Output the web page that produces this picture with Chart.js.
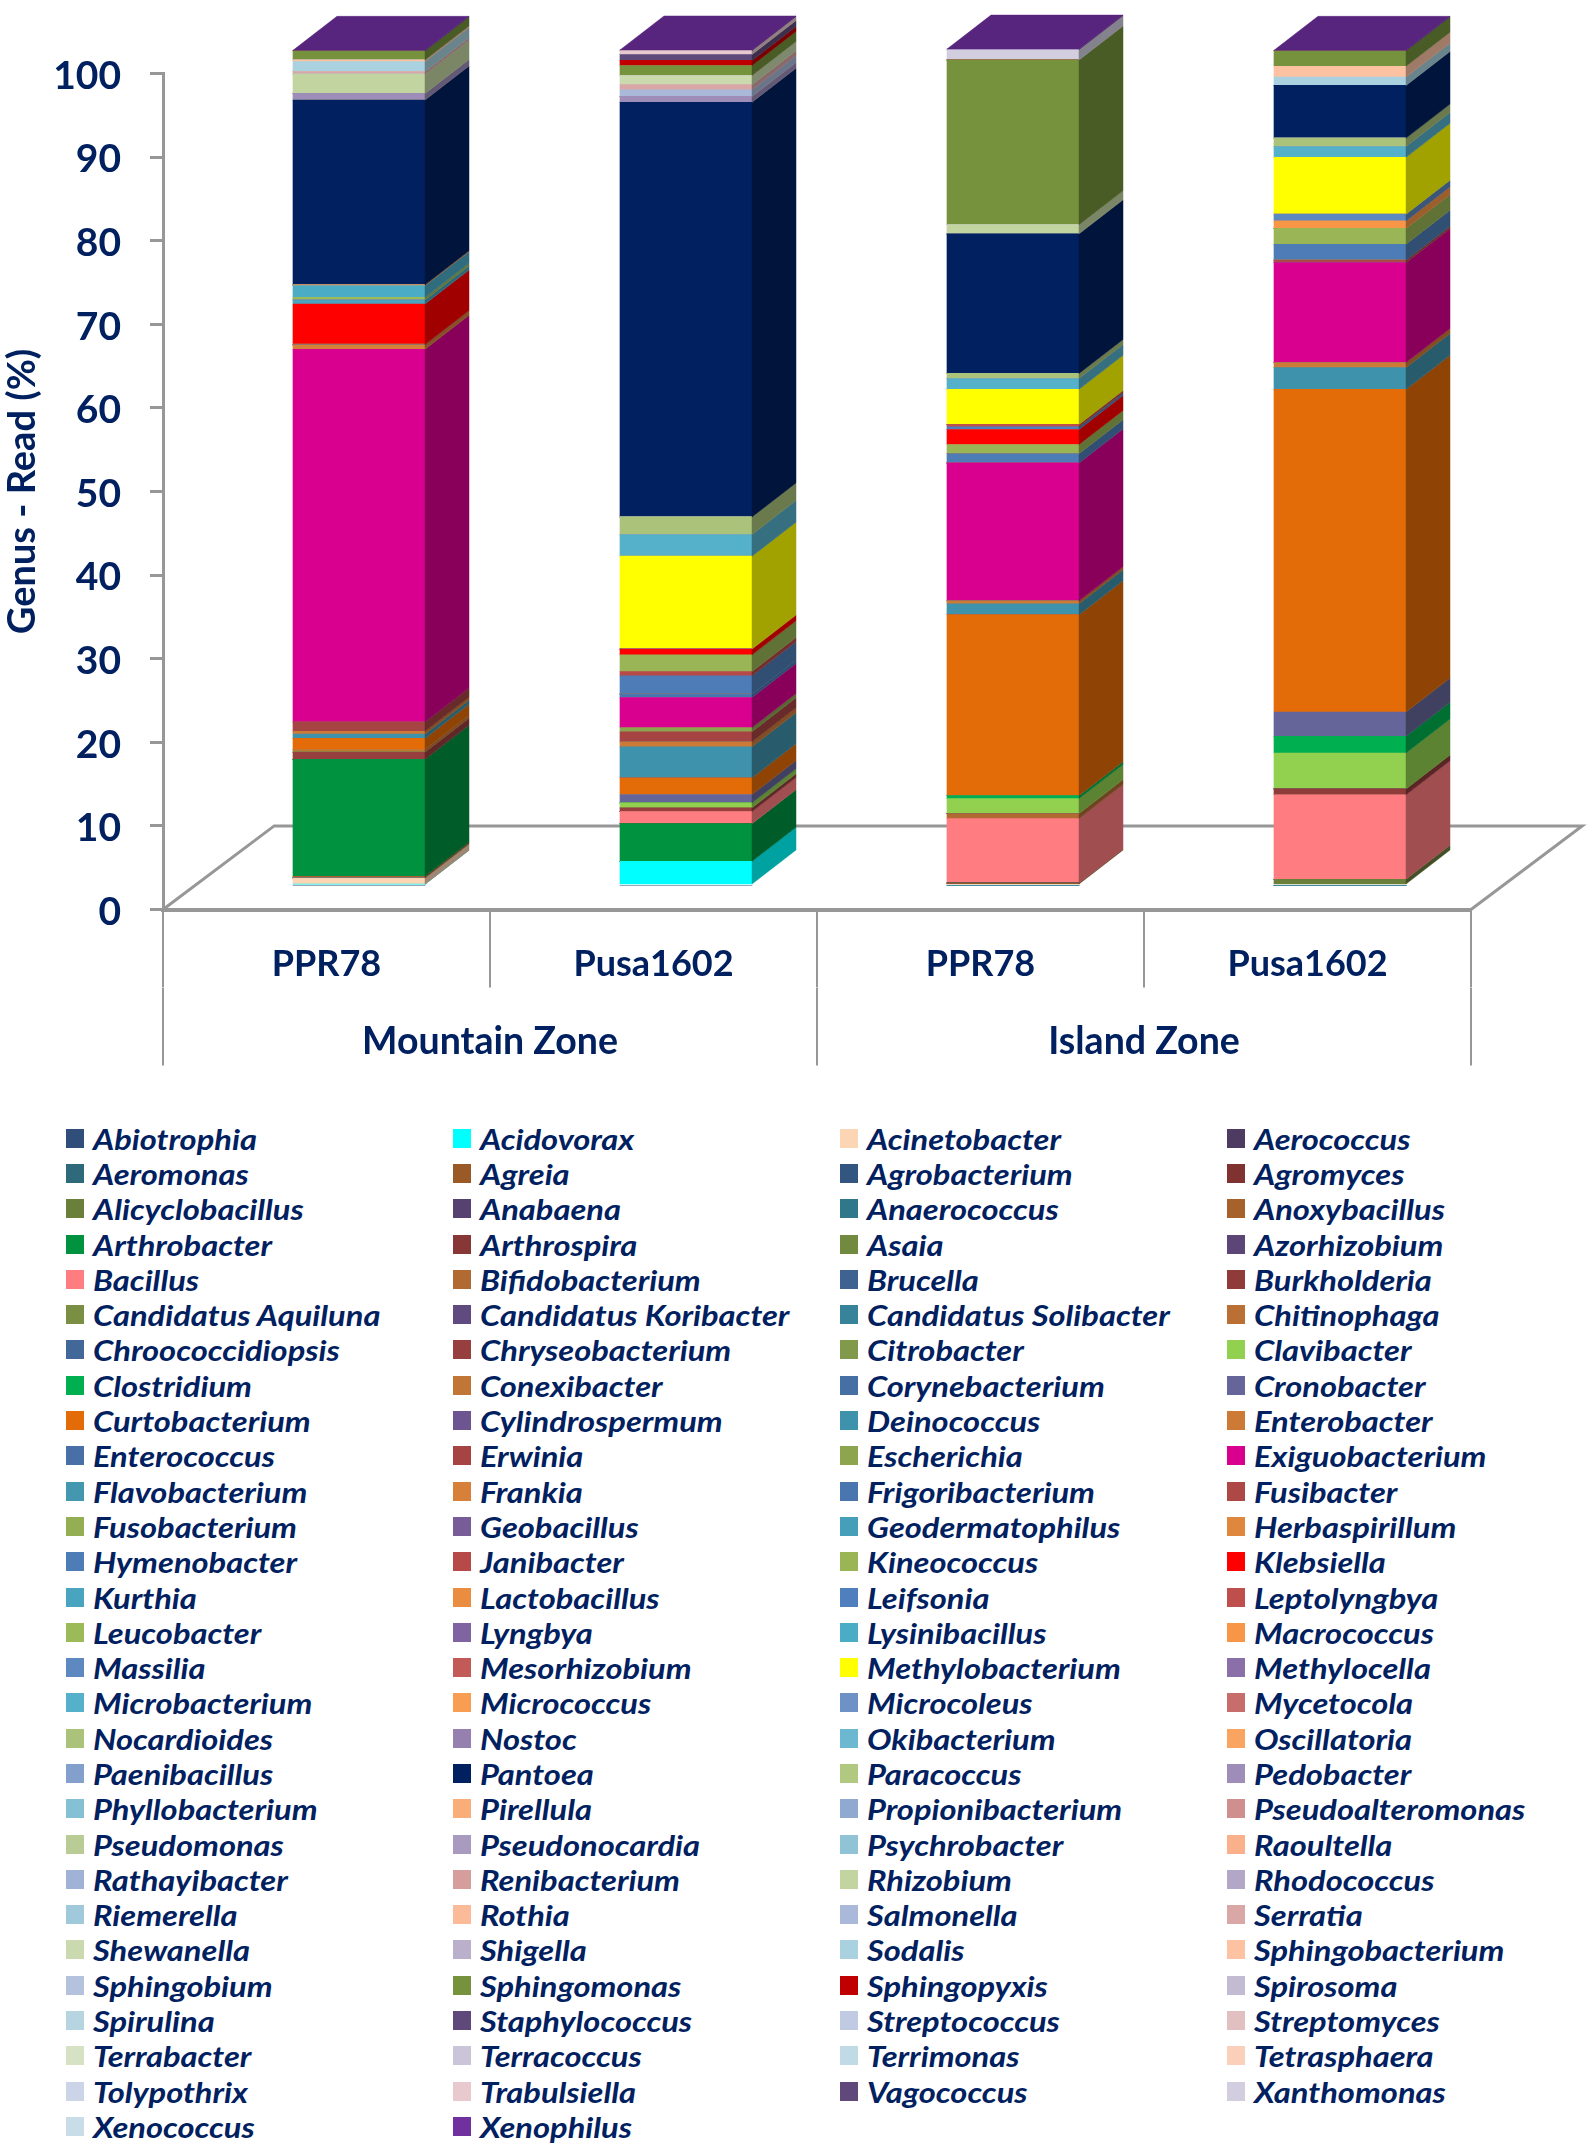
<!DOCTYPE html>
<html>
<head>
<meta charset="utf-8">
<title>Genus - Read</title>
<script src="https://cdn.jsdelivr.net/npm/chart.js@4"></script>
<style>
    body { margin: 0; background: #fff; width: 1592px; height: 2145px; position: relative; overflow: hidden; }
    #myChart { position: absolute; left: 0; top: 0; }
    #legend { position: absolute; left: 66px; top: 1120.5px; display: grid; grid-template-columns: repeat(4, 387px); grid-auto-rows: 35.3px; }
    .item { display: flex; align-items: center; font: italic 700 29px Lato, sans-serif; color: #002060; white-space: nowrap; }
    .item span.name { display: inline-block; transform: scaleX(1.125); transform-origin: 0 50%; }
    .swatch { width: 18px; height: 19px; margin-right: 9px; flex: none; }
</style>
</head>
<body>
<canvas id="myChart" width="1592" height="1110"></canvas>
<div id="legend"></div>
<script>
const cultivars = ['PPR78', 'Pusa1602', 'PPR78', 'Pusa1602'];
const zones = ['Mountain Zone', 'Island Zone'];
const yTicks = [0, 10, 20, 30, 40, 50, 60, 70, 80, 90, 100];

// same order as the legend, four to a row
const genera = [
    'Abiotrophia', 'Acidovorax', 'Acinetobacter', 'Aerococcus',
    'Aeromonas', 'Agreia', 'Agrobacterium', 'Agromyces',
    'Alicyclobacillus', 'Anabaena', 'Anaerococcus', 'Anoxybacillus',
    'Arthrobacter', 'Arthrospira', 'Asaia', 'Azorhizobium',
    'Bacillus', 'Bifidobacterium', 'Brucella', 'Burkholderia',
    'Candidatus Aquiluna', 'Candidatus Koribacter', 'Candidatus Solibacter', 'Chitinophaga',
    'Chroococcidiopsis', 'Chryseobacterium', 'Citrobacter', 'Clavibacter',
    'Clostridium', 'Conexibacter', 'Corynebacterium', 'Cronobacter',
    'Curtobacterium', 'Cylindrospermum', 'Deinococcus', 'Enterobacter',
    'Enterococcus', 'Erwinia', 'Escherichia', 'Exiguobacterium',
    'Flavobacterium', 'Frankia', 'Frigoribacterium', 'Fusibacter',
    'Fusobacterium', 'Geobacillus', 'Geodermatophilus', 'Herbaspirillum',
    'Hymenobacter', 'Janibacter', 'Kineococcus', 'Klebsiella',
    'Kurthia', 'Lactobacillus', 'Leifsonia', 'Leptolyngbya',
    'Leucobacter', 'Lyngbya', 'Lysinibacillus', 'Macrococcus',
    'Massilia', 'Mesorhizobium', 'Methylobacterium', 'Methylocella',
    'Microbacterium', 'Micrococcus', 'Microcoleus', 'Mycetocola',
    'Nocardioides', 'Nostoc', 'Okibacterium', 'Oscillatoria',
    'Paenibacillus', 'Pantoea', 'Paracoccus', 'Pedobacter',
    'Phyllobacterium', 'Pirellula', 'Propionibacterium', 'Pseudoalteromonas',
    'Pseudomonas', 'Pseudonocardia', 'Psychrobacter', 'Raoultella',
    'Rathayibacter', 'Renibacterium', 'Rhizobium', 'Rhodococcus',
    'Riemerella', 'Rothia', 'Salmonella', 'Serratia',
    'Shewanella', 'Shigella', 'Sodalis', 'Sphingobacterium',
    'Sphingobium', 'Sphingomonas', 'Sphingopyxis', 'Spirosoma',
    'Spirulina', 'Staphylococcus', 'Streptococcus', 'Streptomyces',
    'Terrabacter', 'Terracoccus', 'Terrimonas', 'Tetrasphaera',
    'Tolypothrix', 'Trabulsiella', 'Vagococcus', 'Xanthomonas',
    'Xenococcus', 'Xenophilus'
];

const mountainPPR78 = [
    0, 0.15, 0.75, 0,
    0, 0, 0, 0,
    0, 0, 0, 0.2,
    14.0, 0, 0, 0,
    0, 0, 0, 0,
    0, 0, 0, 0,
    0, 0.85, 0, 0,
    0, 0.35, 0, 0,
    1.3, 0, 0.5, 0.35,
    0, 1.1, 0, 44.6,
    0, 0.5, 0, 0,
    0, 0, 0, 0,
    0, 0.1, 0, 4.8,
    0.5, 0, 0, 0,
    0.3, 0, 1.4, 0.1,
    0, 0, 0, 0,
    0, 0, 0, 0,
    0, 0, 0, 0,
    0, 22.1, 0, 0.8,
    0, 0, 0, 0,
    0, 0, 0, 0,
    0, 0, 2.3, 0,
    0, 0, 0, 0.3,
    0, 0, 1.2, 0.2,
    0, 1.1, 0, 0,
    0, 0, 0, 0,
    0, 0, 0, 0,
    0, 0, 0, 0,
    0, 0.05
];

const mountainPusa1602 = [
    0, 2.9, 0, 0,
    0, 0, 0, 0,
    0, 0, 0, 0,
    4.5, 0, 0, 0,
    1.44, 0, 0, 0,
    0, 0, 0, 0,
    0, 0.45, 0, 0.6,
    0, 0, 0, 1.0,
    2.0, 0, 3.7, 0.6,
    0, 1.2, 0.5, 3.6,
    0, 0, 0.4, 0,
    0, 0, 0, 0,
    2.2, 0.5, 2.0, 0.7,
    0, 0, 0, 0,
    0, 0, 0, 0,
    0, 0, 11.1, 0,
    2.6, 0, 0, 0,
    2.1, 0, 0, 0,
    0, 49.6, 0, 0.7,
    0, 0, 0, 0,
    0, 0, 0, 0,
    0, 0, 0, 0,
    0, 0, 0.8, 0.6,
    1.1, 0, 0, 0,
    0, 1.2, 0.6, 0,
    0, 0.7, 0, 0,
    0, 0, 0, 0,
    0, 0.5, 0, 0,
    0, 0.05
];

const islandPPR78 = [
    0, 0, 0, 0,
    0, 0.3, 0, 0,
    0, 0, 0, 0,
    0, 0, 0, 0,
    7.7, 0.6, 0, 0,
    0, 0, 0, 0,
    0, 0, 0, 1.8,
    0.35, 0, 0, 0,
    21.65, 0, 1.3, 0.35,
    0, 0, 0, 16.5,
    0, 0, 0, 0,
    0, 0, 0, 0,
    1.1, 0, 1.1, 1.8,
    0, 0, 0.3, 0.3,
    0, 0, 0, 0,
    0, 0, 4.2, 0,
    1.3, 0, 0, 0,
    0.6, 0, 0, 0,
    0, 16.7, 0, 0,
    0, 0, 0, 0,
    0, 0, 0, 0,
    0, 0, 1.1, 0,
    0, 0, 0, 0,
    0, 0, 0, 0,
    0, 19.7, 0, 0,
    0, 0, 0, 0,
    0, 0, 0, 0,
    0, 0, 0, 1.25,
    0, 0.05
];

const islandPusa1602 = [
    0, 0, 0, 0,
    0, 0, 0, 0,
    0.75, 0, 0, 0,
    0, 0, 0, 0,
    10.1, 0, 0, 0.7,
    0, 0, 0, 0,
    0, 0, 0, 4.3,
    2.0, 0, 0, 2.9,
    38.6, 0, 2.6, 0.6,
    0, 0, 0, 11.95,
    0, 0, 0, 0.3,
    0, 0, 0, 0,
    1.9, 0, 1.9, 0,
    0, 0, 0, 0,
    0, 0, 0, 0.9,
    0.8, 0, 6.8, 0,
    1.3, 0, 0, 0,
    1.0, 0, 0, 0,
    0, 6.3, 0, 0,
    0, 0, 0, 0,
    0, 0, 0, 0,
    0, 0, 0, 0,
    0, 0, 0, 0,
    0, 0, 1.0, 1.3,
    0, 1.85, 0, 0,
    0, 0, 0, 0,
    0, 0, 0, 0,
    0, 0, 0, 0,
    0, 0.05
];

const samples = [mountainPPR78, mountainPusa1602, islandPPR78, islandPusa1602];

const genusColors = [
    '#2f4f7a', '#00ffff', '#fcd5b5', '#4d3b62',
    '#2f6a7c', '#9a5a28', '#335680', '#7f3230',
    '#6a7f3a', '#554270', '#30778a', '#a7622c',
    '#00923f', '#873736', '#728a40', '#5b4677',
    '#ff7c80', '#b16a32', '#3f6290', '#8f3b3a',
    '#7a8f44', '#5f4b80', '#37849a', '#ba7034',
    '#42689a', '#963f3e', '#81994a', '#92d050',
    '#00b050', '#c27636', '#4670a4', '#65659a',
    '#e36c09', '#6d5592', '#3f92ab', '#cd7a36',
    '#4870a6', '#a54443', '#8ca54e', '#d9008f',
    '#4398b0', '#d6803a', '#4a76b0', '#ae4846',
    '#93ae53', '#785c98', '#469fb8', '#e0873e',
    '#4e7cb6', '#b74a48', '#99b555', '#ff0000',
    '#49a5bf', '#eb8d41', '#4f80bd', '#be4f4c',
    '#9bbb59', '#8063a1', '#4bacc6', '#f79646',
    '#5e88c0', '#c25a58', '#ffff00', '#8a6fa8',
    '#55b0ca', '#f89e52', '#6f92c6', '#c76d6b',
    '#aac27a', '#9580b0', '#6cb8d0', '#f9a561',
    '#82a0cb', '#002060', '#b0c880', '#9f8db9',
    '#84c1d4', '#f9ae7a', '#90a9d0', '#cf8f8e',
    '#bacc96', '#a99bc0', '#8fc3d5', '#fab08a',
    '#a0b3d6', '#d59d9c', '#c2d4a0', '#b2a7c6',
    '#a0cadb', '#fbbb98', '#aab9d9', '#d9a7a6',
    '#cad9ae', '#bbb0cc', '#a9d1df', '#fcc2a2',
    '#b5c2de', '#76923c', '#c00000', '#c3bbd2',
    '#b6d5e1', '#5f497a', '#c0cbe3', '#e2c0c2',
    '#d7e2c5', '#cbc5d9', '#c0dbe5', '#fbd0bb',
    '#ccd4e7', '#e8c9cd', '#60497a', '#d2cee0',
    '#c8dde8', '#7030a0'
];

const textColor = '#002060';
const axisColor = '#979797';
const barDepth = { x: 44, y: 34 };
const barShift = { x: 32.5, y: -24 };

function shade(hex, f) {
    const n = parseInt(hex.slice(1), 16);
    const c = [n >> 16, (n >> 8) & 255, n & 255].map(v => Math.round(v * f));
    return `rgb(${c[0]},${c[1]},${c[2]})`;
}

function fillPoly(ctx, pts, color) {
    ctx.beginPath();
    pts.forEach((p, i) => i ? ctx.lineTo(p[0], p[1]) : ctx.moveTo(p[0], p[1]));
    ctx.closePath();
    ctx.fillStyle = color;
    ctx.strokeStyle = color;
    ctx.lineWidth = 0.5;
    ctx.fill();
    ctx.stroke();
}

// floor of the 3D box, then bars shifted to the middle of it with side and top faces
const box3d = {
    id: 'box3d',
    beforeDatasetsDraw(chart) {
        const { ctx, chartArea: a, scales } = chart;
        const dy = a.bottom - scales.y.getPixelForValue(10);
        const dx = dy * 1.33;
        ctx.save();
        ctx.beginPath();
        ctx.moveTo(a.left, a.bottom);
        ctx.lineTo(a.left + dx, a.bottom - dy);
        ctx.lineTo(a.right + dx, a.bottom - dy);
        ctx.lineTo(a.right, a.bottom);
        ctx.strokeStyle = axisColor;
        ctx.lineWidth = 3;
        ctx.stroke();
        ctx.restore();
        ctx.save();
        ctx.translate(barShift.x, barShift.y);
    },
    afterDatasetsDraw(chart) {
        const ctx = chart.ctx;
        const tops = {};
        chart.data.datasets.forEach((ds, i) => {
            chart.getDatasetMeta(i).data.forEach((bar, j) => {
                if (!ds.data[j]) return;
                const r = bar.x + bar.width / 2;
                fillPoly(ctx, [[r, bar.y], [r + barDepth.x, bar.y - barDepth.y],
                    [r + barDepth.x, bar.base - barDepth.y], [r, bar.base]], shade(genusColors[i], 0.63));
                tops[j] = { x: bar.x, y: bar.y, w: bar.width };
            });
        });
        Object.values(tops).forEach(t => {
            const l = t.x - t.w / 2, r = t.x + t.w / 2;
            fillPoly(ctx, [[l, t.y], [l + barDepth.x, t.y - barDepth.y],
                [r + barDepth.x, t.y - barDepth.y], [r, t.y]], shade(genusColors[genera.length - 1], 0.78));
        });
        ctx.restore();
    }
};

const datasets = genera.map((name, i) => ({
    label: name,
    data: samples.map(s => s[i]),
    backgroundColor: genusColors[i],
    borderWidth: 0,
    clip: false
}));

new Chart(document.getElementById('myChart').getContext('2d'), {
    type: 'bar',
    data: { labels: cultivars, datasets: datasets },
    plugins: [box3d],
    options: {
        responsive: false,
        animation: false,
        devicePixelRatio: 1,
        barThickness: 132,
        layout: { padding: { top: 73.5, right: 121, bottom: 44.5, left: 0 } },
        plugins: { legend: { display: false }, tooltip: { enabled: false } },
        scales: {
            x: {
                stacked: true,
                offset: true,
                grid: { offset: true, drawOnChartArea: false, color: axisColor, lineWidth: 2, tickLength: 78 },
                border: { color: axisColor, width: 4 },
                ticks: { color: textColor, font: { family: 'Lato', weight: '700', size: 36 }, padding: -45, maxRotation: 0, autoSkip: false },
                afterFit: s => { s.height = 78; }
            },
            zone: {
                type: 'category',
                labels: zones,
                position: 'bottom',
                offset: true,
                grid: { offset: true, drawOnChartArea: false, color: axisColor, lineWidth: 2, tickLength: 78 },
                border: { display: false },
                ticks: { color: textColor, font: { family: 'Lato', weight: '700', size: 37.5 }, padding: -46, maxRotation: 0, autoSkip: false },
                afterFit: s => { s.height = 78; }
            },
            y: {
                stacked: true,
                min: 0,
                max: 100,
                afterBuildTicks: s => { s.ticks = yTicks.map(v => ({ value: v })); },
                grid: { drawOnChartArea: false, color: axisColor, lineWidth: 3, tickLength: 13 },
                border: { color: axisColor, width: 3 },
                ticks: {
                    color: textColor,
                    // blank first line pushes the number a little below its tick
                    font: { family: 'Lato', weight: '700', size: 39, lineHeight: 0.135 },
                    padding: 29,
                    callback: v => ['', String(v)]
                },
                title: { display: true, text: 'Genus - Read (%)', color: textColor, font: { family: 'Lato', weight: '700', size: 38 }, padding: { top: 0, bottom: 0 } },
                afterFit: s => { s.width = 163; }
            }
        }
    }
});

const legend = document.getElementById('legend');
genera.forEach((name, i) => {
    const item = document.createElement('div');
    item.className = 'item';
    const swatch = document.createElement('span');
    swatch.className = 'swatch';
    swatch.style.background = genusColors[i];
    const label = document.createElement('span');
    label.className = 'name';
    label.textContent = name;
    item.appendChild(swatch);
    item.appendChild(label);
    legend.appendChild(item);
});
</script>
</body>
</html>
